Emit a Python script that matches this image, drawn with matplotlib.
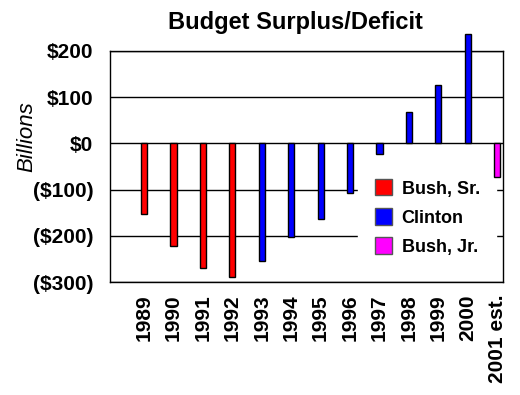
import matplotlib
matplotlib.use("Agg")
import matplotlib.pyplot as plt
from matplotlib.patches import Patch

# Data (billions of dollars)
years = ["1989", "1990", "1991", "1992", "1993", "1994", "1995",
         "1996", "1997", "1998", "1999", "2000", "2001 est."]
balance = [-152, -221, -269, -290, -255, -203, -164,
           -107, -22, 69, 126, 236, -73]
admin = ["Bush, Sr."] * 4 + ["Clinton"] * 8 + ["Bush, Jr."]

admin_colors = {"Bush, Sr.": "#ff0000", "Clinton": "#0000ff", "Bush, Jr.": "#ff00ff"}
yticks = [200, 100, 0, -100, -200, -300]
ytick_labels = ["$200", "$100", "$0", "($100)", "($200)", "($300)"]

plt.rcParams["font.family"] = ["Liberation Sans", "DejaVu Sans"]

fig = plt.figure(figsize=(5.2, 3.95), dpi=100)
ax = fig.add_axes([110 / 520, 1 - 282 / 395, 393 / 520, 231 / 395])

x = list(range(len(years)))
colors = [admin_colors[a] for a in admin]
ax.bar(x, balance, width=0.21, color=colors, edgecolor="black",
       linewidth=1, zorder=3, clip_on=False)

ax.set_xlim(-1.16, 12.2)
ax.set_ylim(-300, 200)
ax.set_yticks(yticks)
ax.set_yticklabels(ytick_labels, fontsize=15, fontweight="bold")
ax.set_xticks(x)
ax.set_xticklabels(years, rotation=90, fontsize=15, fontweight="bold")
ax.tick_params(axis="y", length=0, pad=12)
ax.tick_params(axis="x", length=0, pad=9)
ax.yaxis.grid(True, color="black", linewidth=1)
ax.set_axisbelow(True)
for s in ax.spines.values():
    s.set_linewidth(1)

ax.set_ylabel("Billions", fontsize=16, fontstyle="italic")
ax.yaxis.set_label_coords(-0.185, 0.63)

fig.text(0.569, 0.944, "Budget Surplus/Deficit", ha="center", va="center",
         fontsize=17, fontweight="bold")

handles = [Patch(facecolor=c, edgecolor="#555555", label=n) for n, c in admin_colors.items()]
leg = ax.legend(handles=handles, loc="upper left", bbox_to_anchor=(0.632, 0.515),
                frameon=True, fancybox=False, facecolor="white", edgecolor="white",
                framealpha=1, prop={"weight": "bold", "size": 13},
                handlelength=0.95, handleheight=1.0, handletextpad=0.55,
                labelspacing=0.6, borderpad=0.9, borderaxespad=0)
leg.set_zorder(2.5)

fig.savefig("out.png", dpi=100)
